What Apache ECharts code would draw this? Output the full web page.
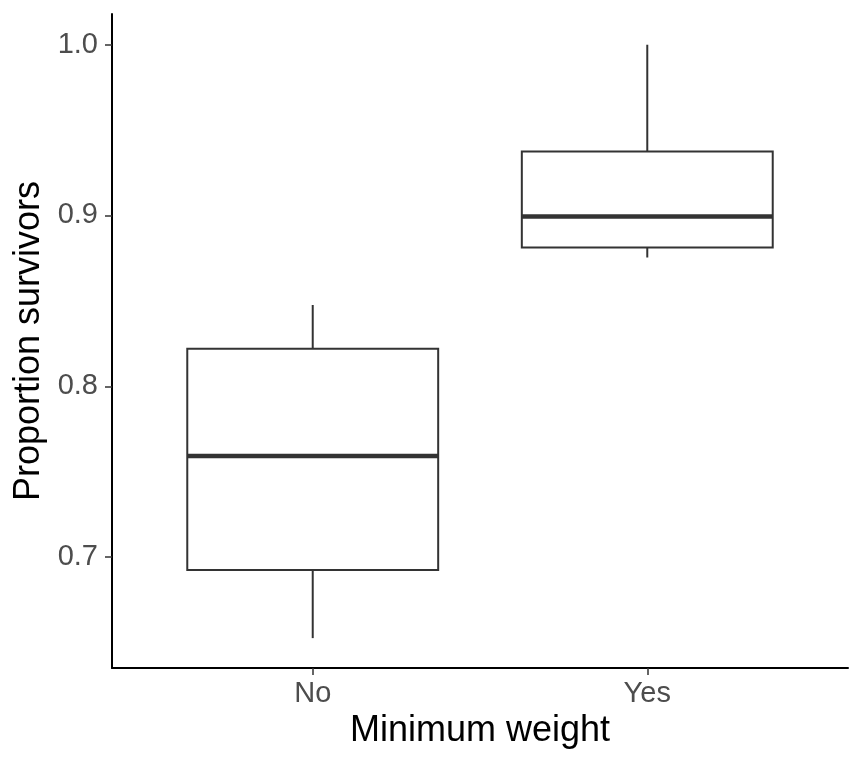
<!DOCTYPE html>
<html>
<head>
<meta charset="utf-8">
<script src="https://cdn.jsdelivr.net/npm/echarts@6/dist/echarts.min.js"></script>
<style>html,body{margin:0;padding:0;background:#fff}#c{width:864px;height:768px}</style>
</head>
<body>
<div id="c"></div>
<script>
var categories = ['No', 'Yes'];
var whiskerLow = [0.6525, 0.8754];
var q1 = [0.6924, 0.8813];
var median = [0.7592, 0.8994];
var q3 = [0.8219, 0.9375];
var whiskerHigh = [0.8476, 1.0];
var yTicks = [0.7, 0.8, 0.9, 1.0];

var data = categories.map(function (c, i) {
  return [i + 1, whiskerLow[i], q1[i], median[i], q3[i], whiskerHigh[i]];
});

var chart = echarts.init(document.getElementById('c'));
var font = 'Liberation Sans, Arial, sans-serif';
chart.setOption({
  animation: false,
  grid: { left: 112, right: 16, top: 14, bottom: 100, containLabel: false, outerBoundsMode: 'none' },
  xAxis: {
    type: 'value', min: 0.4, max: 2.6,
    name: 'Minimum weight', nameLocation: 'middle', nameGap: 44,
    nameTextStyle: { fontSize: 36, color: '#000', fontFamily: font },
    axisLine: { show: true, onZero: false, lineStyle: { color: '#000', width: 2 } },
    axisTick: { show: true, customValues: [1, 2], length: 7, lineStyle: { color: '#333', width: 1.5 } },
    axisLabel: { customValues: [1, 2], formatter: function (v) { return categories[Math.round(v) - 1] || ''; },
      fontSize: 29, color: '#4d4d4d', fontFamily: font, margin: 11 },
    splitLine: { show: false }
  },
  yAxis: {
    type: 'value', min: 0.635, max: 1.018,
    name: 'Proportion survivors', nameLocation: 'middle', nameGap: 60,
    nameTextStyle: { fontSize: 36, color: '#000', fontFamily: font },
    axisLine: { show: true, onZero: false, lineStyle: { color: '#000', width: 2 } },
    axisTick: { show: true, customValues: yTicks, length: 7, lineStyle: { color: '#333', width: 1.5 } },
    axisLabel: { customValues: yTicks, formatter: function (v) { return v.toFixed(1); },
      fontSize: 29, color: '#4d4d4d', fontFamily: font, margin: 14 },
    splitLine: { show: false }
  },
  series: [{
    type: 'custom',
    data: data,
    encode: { x: 0, y: [1, 2, 3, 4, 5] },
    renderItem: function (params, api) {
      var x = api.value(0);
      var w = api.size([0.75, 0])[0];
      var pLow = api.coord([x, api.value(1)]);
      var pQ1 = api.coord([x, api.value(2)]);
      var pMed = api.coord([x, api.value(3)]);
      var pQ3 = api.coord([x, api.value(4)]);
      var pHigh = api.coord([x, api.value(5)]);
      var cx = pQ1[0];
      var stroke = { stroke: '#333', lineWidth: 2, fill: null };
      return {
        type: 'group',
        children: [
          { type: 'line', shape: { x1: cx, y1: pHigh[1], x2: cx, y2: pQ3[1] }, style: stroke },
          { type: 'line', shape: { x1: cx, y1: pQ1[1], x2: cx, y2: pLow[1] }, style: stroke },
          { type: 'rect', shape: { x: cx - w / 2, y: pQ3[1], width: w, height: pQ1[1] - pQ3[1] },
            style: { fill: '#fff', stroke: '#333', lineWidth: 2 } },
          { type: 'line', shape: { x1: cx - w / 2, y1: pMed[1], x2: cx + w / 2, y2: pMed[1] },
            style: { stroke: '#333', lineWidth: 4.5 } }
        ]
      };
    }
  }]
});
</script>
</body>
</html>
